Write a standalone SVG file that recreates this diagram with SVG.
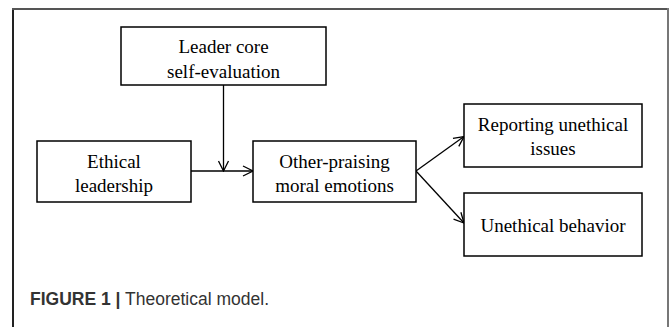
<svg xmlns="http://www.w3.org/2000/svg" width="672" height="327" viewBox="0 0 672 327">
<style>
.box{fill:#fff;stroke:#000;stroke-width:1.5}
.t{font-family:"Liberation Serif","Times New Roman",serif;font-size:19px;fill:#000;text-anchor:middle}
.c{fill:none;stroke:#000;stroke-width:1.3}
.cap{font-family:"Liberation Sans",Arial,sans-serif;font-size:17.5px;fill:#333}
</style>
<defs>
<marker id="ah" viewBox="0 0 12 12" refX="11" refY="6" markerWidth="12" markerHeight="12" markerUnits="userSpaceOnUse" orient="auto">
<path d="M1,1 L11,6 L1,11" fill="none" stroke="#000" stroke-width="1.3"/>
</marker>
</defs>
<rect width="672" height="327" fill="#fff"/>
<g id="frame">
<line x1="13" y1="9" x2="13" y2="327" stroke="#222" stroke-width="2"/>
<line x1="12" y1="9" x2="669" y2="9" stroke="#555" stroke-width="2"/>
<line x1="668" y1="8" x2="668" y2="327" stroke="#777" stroke-width="2"/>
</g>
<g id="connectors">
<line class="c" x1="223.5" y1="85" x2="223.5" y2="171" marker-end="url(#ah)"/>
<line class="c" x1="191" y1="171" x2="253" y2="171" marker-end="url(#ah)"/>
<line class="c" x1="416" y1="171" x2="464" y2="136.5" marker-end="url(#ah)"/>
<line class="c" x1="416" y1="171" x2="464" y2="223" marker-end="url(#ah)"/>
</g>
<g id="leader">
<rect class="box" x="121" y="27" width="205" height="58"/>
<text class="t" x="223.5" y="53">Leader core</text>
<text class="t" x="223.5" y="78">self-evaluation</text>
</g>
<g id="ethical">
<rect class="box" x="37" y="141" width="154" height="61"/>
<text class="t" x="114" y="168">Ethical</text>
<text class="t" x="114" y="192">leadership</text>
</g>
<g id="other">
<rect class="box" x="253" y="141" width="163" height="61"/>
<text class="t" x="334.5" y="168">Other-praising</text>
<text class="t" x="334.5" y="192">moral emotions</text>
</g>
<g id="reporting">
<rect class="box" x="464" y="104" width="178" height="63"/>
<text class="t" x="553" y="131">Reporting unethical</text>
<text class="t" x="553" y="155">issues</text>
</g>
<g id="unethical">
<rect class="box" x="464" y="193" width="178" height="63"/>
<text class="t" x="553" y="232">Unethical behavior</text>
</g>
<g id="caption">
<text class="cap" x="30" y="305"><tspan font-weight="bold">FIGURE 1</tspan> <tspan font-weight="bold">|</tspan> Theoretical model.</text>
</g>
</svg>
